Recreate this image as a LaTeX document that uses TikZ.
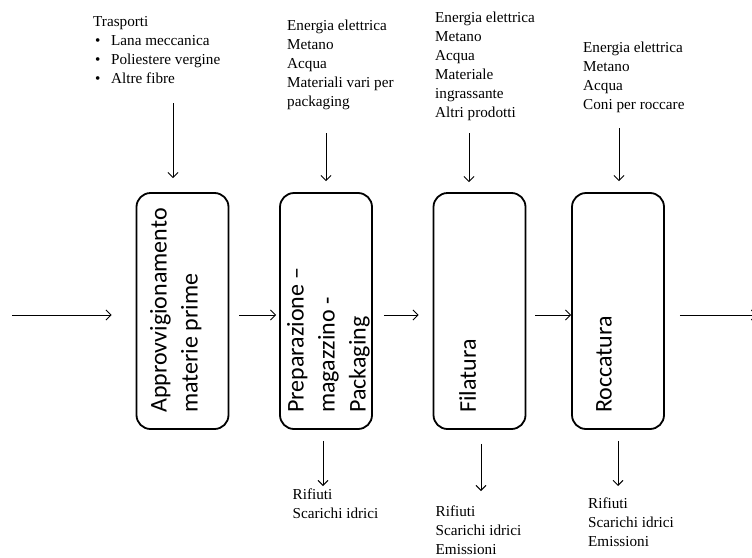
\documentclass[tikz,border=0pt]{standalone}
\usepackage{fontspec}
\setmainfont{Liberation Serif}
\newfontfamily\stagefont{Carlito}
\usepackage{tikz}
\usetikzlibrary{arrows.meta}
\tikzset{stage/.style = {draw, rounded corners=14pt, line width=1.8pt, minimum width=92pt, minimum height=236pt, inner sep=0pt}}
\tikzset{caption/.style = {rotate=90, anchor=north west, align=left, inner sep=0pt, font=\stagefont\fontsize{24}{31}\selectfont}}
\tikzset{notes/.style = {anchor=north west, align=left, inner sep=0pt, font=\fontsize{15.2}{19}\selectfont}}
\tikzset{flow/.style = {->, line width=0.9pt}}
\newcommand{\blt}{\hspace{2pt}\makebox[16pt][l]{\textbullet}}

\begin{document}
\begin{tikzpicture}[x=1pt, y=-1pt, >={Straight Barb[length=5pt, width=10pt]}]
  \useasboundingbox (0,0) rectangle (752,557);

  % process stages
  \node [stage] (approv) at (182.5,311) {};
  \node [stage] (prep) at (326,311) {};
  \node [stage] (fila) at (479.5,311) {};
  \node [stage] (rocca) at (618,311) {};

  \node [caption] (capapprov) at (150,413) {Approvvigionamento\\materie prime};
  \node [caption] (capprep) at (287,413) {Preparazione –\\magazzino -\\Packaging};
  \node [caption] (capfila) at (459,413) {Filatura};
  \node [caption] (caprocca) at (596,413) {Roccatura};

  % inputs
  \node [notes] (inapprov) at (93,16.5) {Trasporti\\\blt Lana meccanica\\\blt Poliestere vergine\\\blt Altre fibre};
  \node [notes] (inprep) at (287,20) {Energia elettrica\\Metano\\Acqua\\Materiali vari per\\packaging};
  \node [notes] (infila) at (435,11.5) {Energia elettrica\\Metano\\Acqua\\Materiale\\ingrassante\\Altri prodotti};
  \node [notes] (inrocca) at (583,41.5) {Energia elettrica\\Metano\\Acqua\\Coni per roccare};

  % outputs
  \node [notes] (outprep) at (292.5,488.5) {Rifiuti\\Scarichi idrici};
  \node [notes] (outfila) at (435.5,505.5) {Rifiuti\\Scarichi idrici\\Emissioni};
  \node [notes] (outrocca) at (588,497.5) {Rifiuti\\Scarichi idrici\\Emissioni};

  \coordinate (src) at (12,315);
  \coordinate (sink) at (757,315);
  \coordinate (t1) at (173,103);
  \coordinate (t2) at (326,133);
  \coordinate (t3) at (469,133);
  \coordinate (t4) at (619,128);
  \coordinate (b2) at (323,486);
  \coordinate (b3) at (481,491);
  \coordinate (b4) at (618,486);

  % main flow
  \draw [flow, shorten >=24pt] (src) -- (approv.west |- src);
  \draw [flow, shorten <=10pt, shorten >=3pt] (approv.east |- src) -- (prep.west |- src);
  \draw [flow, shorten <=11pt, shorten >=14pt] (prep.east |- src) -- (fila.west |- src);
  \draw [flow, shorten <=9pt] (fila.east |- src) -- (rocca.west |- src);
  \draw [flow, shorten <=15pt] (rocca.east |- src) -- (sink);

  % inputs and outputs
  \draw [flow, shorten >=14pt] (t1) -- (t1 |- approv.north);
  \draw [flow, shorten >=11pt] (t2) -- (t2 |- prep.north);
  \draw [flow, shorten >=10pt] (t3) -- (t3 |- fila.north);
  \draw [flow, shorten >=11pt] (t4) -- (t4 |- rocca.north);
  \draw [flow, shorten <=11pt] (b2 |- prep.south) -- (b2);
  \draw [flow, shorten <=14pt] (b3 |- fila.south) -- (b3);
  \draw [flow, shorten <=11pt] (b4 |- rocca.south) -- (b4);
\end{tikzpicture}
\end{document}
